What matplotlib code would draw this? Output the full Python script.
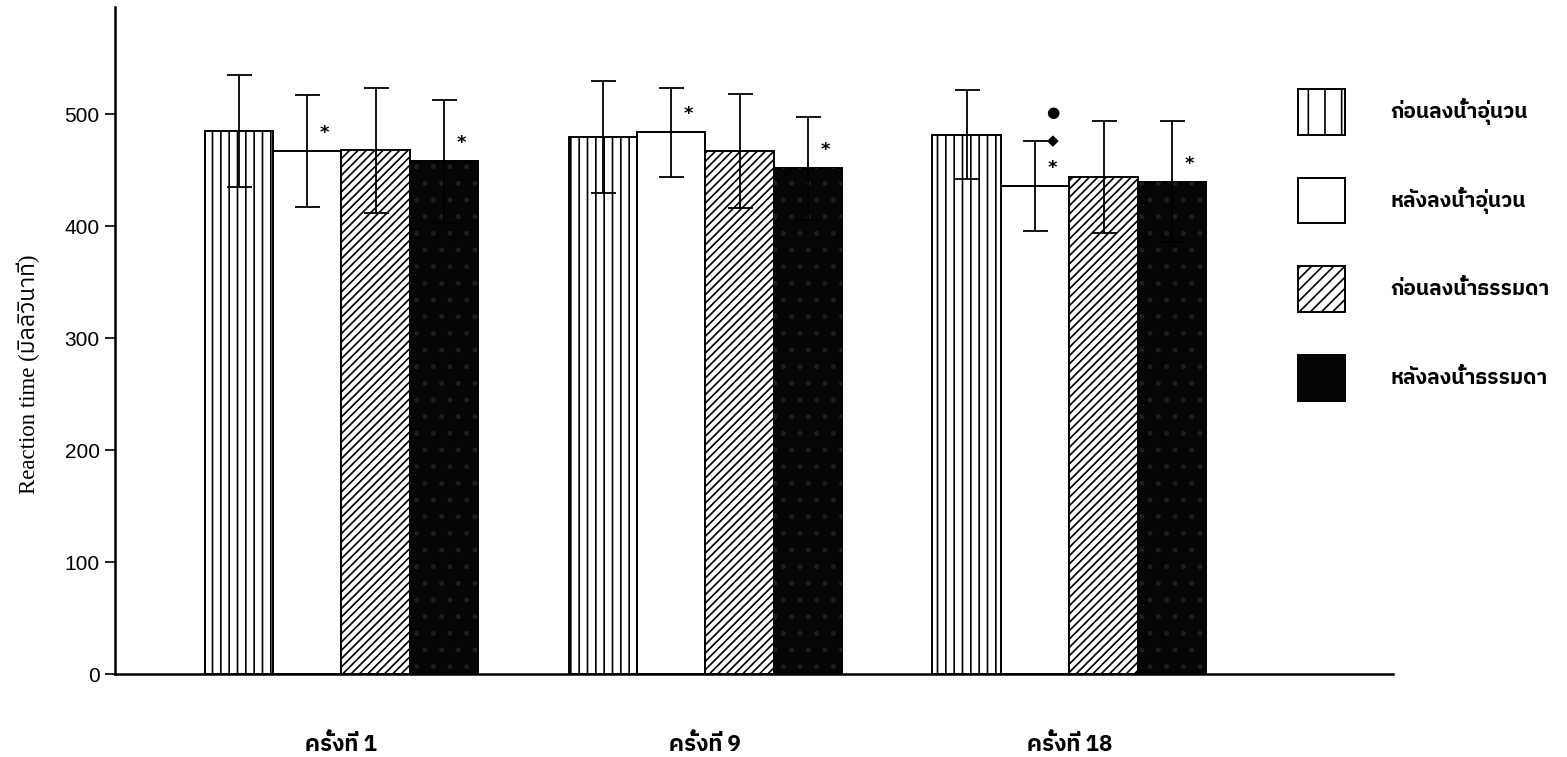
import numpy as np
import matplotlib
matplotlib.use("Agg")
import matplotlib.pyplot as plt
from matplotlib import font_manager, ft2font
from matplotlib.patches import Patch

# data
groups = ["ครั้งที่ 1", "ครั้งที่ 9", "ครั้งที่ 18"]
series = ["ก่อนลงน้ำอุ่นวน", "หลังลงน้ำอุ่นวน", "ก่อนลงน้ำธรรมดา", "หลังลงน้ำธรรมดา"]
pre_whirl = [485, 480, 482]
post_whirl = [467, 484, 436]
pre_normal = [468, 467, 444]
post_normal = [458, 452, 440]
sd_pre_whirl = [50, 50, 40]
sd_post_whirl = [50, 40, 40]
sd_pre_normal = [56, 51, 50]
sd_post_normal = [55, 46, 54]
# significance marks: (group, series index, symbols bottom->top)
marks = [(0, 1, ["*"]), (0, 3, ["*"]),
         (1, 1, ["*"]), (1, 3, ["*"]),
         (2, 1, ["*", "◆", "●"]), (2, 3, ["*"])]
yticks = [0, 100, 200, 300, 400, 500]


def thai_family():
    # find any installed font that has Thai glyphs
    for f in font_manager.fontManager.ttflist:
        if "Thai" in f.name:
            return f.name
    for f in font_manager.fontManager.ttflist:
        try:
            if 0x0E01 in ft2font.FT2Font(f.fname).get_charmap():
                return f.name
        except Exception:
            pass
    return "DejaVu Sans"


THAI = thai_family()
plt.rcParams["hatch.linewidth"] = 1.2

means = [pre_whirl, post_whirl, pre_normal, post_normal]
sds = [sd_pre_whirl, sd_post_whirl, sd_pre_normal, sd_post_normal]
hatches = ["||", "", "////", ""]
leg_hatches = ["|", "", "///", ""]
faces = ["white", "white", "white", "#050505"]

fig = plt.figure(figsize=(15.67, 7.57), dpi=100)
ax = fig.add_axes([0.0734, 0.1096, 0.8155, 0.8812])

x = np.arange(len(groups))
w = 0.188
offs = [-1.5 * w, -0.5 * w, 0.5 * w, 1.5 * w]
handles = []
for i in range(4):
    ax.bar(x + offs[i], means[i], w, color=faces[i], edgecolor="black",
           linewidth=1.4, hatch=hatches[i], zorder=2)
    if i == 3:
        # faint speckle on the dark bars
        ax.bar(x + offs[i], means[i], w, fill=False, edgecolor="#1e1e1e",
               linewidth=0, hatch=".", zorder=2.5)
    ax.errorbar(x + offs[i], means[i], yerr=sds[i], fmt="none", ecolor="black",
                elinewidth=1.3, capsize=9, capthick=1.3, zorder=3)
    handles.append(Patch(facecolor=faces[i], edgecolor="black", linewidth=1.4,
                         hatch=leg_hatches[i]))

for g, s, syms in marks:
    for k, sym in enumerate(syms):
        ax.annotate(sym, xy=(x[g] + offs[s], means[s][g]),
                    xytext=(12.5, 13 + 20 * k), textcoords="offset points",
                    ha="center", va="center",
                    fontsize=13 if sym == "*" else 11, fontweight="bold",
                    family="DejaVu Sans", zorder=4)

ax.set_xlim(-0.622, 2.889)
ax.set_ylim(0, 596)
ax.set_yticks(yticks)
ax.set_xticks(x)
ax.set_xticklabels(groups, family=[THAI, "Liberation Serif"], fontsize=16,
                   fontweight="bold")
ax.tick_params(axis="x", length=0, pad=43)
ax.tick_params(axis="y", length=7, width=1.2, labelsize=15, pad=4)
for lbl in ax.get_yticklabels():
    lbl.set_family("Liberation Sans")
for sp in ["top", "right"]:
    ax.spines[sp].set_visible(False)
for sp in ["left", "bottom"]:
    ax.spines[sp].set_linewidth(1.8)

fig.text(28 / 1567, 1 - 374 / 757, "Reaction time (มิลลิวินาที)", rotation=90,
         ha="center", va="center", fontsize=16.5,
         family=["Liberation Serif", THAI])

leg = fig.legend(handles, series, loc="upper left",
                 bbox_to_anchor=(1298 / 1567, 1 - 89 / 757),
                 frameon=False, borderpad=0, borderaxespad=0,
                 handlelength=2.26, handleheight=2.99, handletextpad=2.16,
                 labelspacing=2.07,
                 prop={"family": [THAI, "DejaVu Sans"], "size": 15, "weight": "bold"})

fig.savefig("out.png", dpi=100, facecolor="white")
